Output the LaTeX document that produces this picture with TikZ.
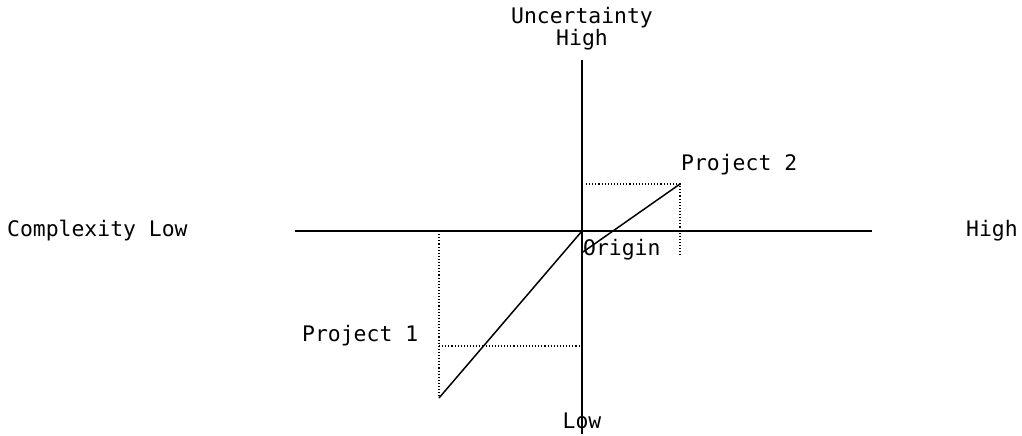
\documentclass[tikz,border=0pt]{standalone}
\usepackage{fontspec}
\setmonofont{DejaVu Sans Mono}
\usetikzlibrary{calc, positioning}

\begin{document}
\begin{tikzpicture}[x=1pt,y=-1pt,
  every node/.style={font=\fontsize{21.4}{25}\selectfont\ttfamily,inner sep=0pt},
  axis/.style={line width=1.6pt,black},
  proj/.style={line width=1.5pt,black},
  guide/.style={line width=1.1pt,dotted,black}]
\useasboundingbox (0,0) rectangle (1022,436);
\coordinate (O) at (582,231);
\coordinate (XL) at (295,231);
\coordinate (XR) at (872,231);
\coordinate (YT) at (582,60);
\coordinate (YB) at (582,434);
\coordinate (PTwo) at (680,184);
\coordinate (PTwoEnd) at (583,252);
\coordinate (PTwoY) at (586,184);
\coordinate (PTwoX) at (680,256);
\coordinate (POne) at (439,398);
\coordinate (POneX) at (439,231);
\coordinate (POneA) at (439,346);
\coordinate (POneY) at (580,346);

\draw[axis] (XL) -- (XR);
\draw[axis] (YT) -- (YB);
\draw[guide] (PTwoY) -- (PTwo) -- (PTwoX);
\draw[guide] (POneX) -- (POne);
\draw[guide] (POneA) -- (POneY);
\draw[proj] (O) -- (POne);
\draw[proj] (PTwo) -- (PTwoEnd);

\node (uncert) at (582,18) {Uncertainty};
\node (yhigh) at (582,40) {High};
\node (ylow) at (582,421) {Low};
\node[anchor=west] (xlow) at (7,231) {Complexity Low};
\node[anchor=west] (xhigh) at (966,231) {High};
\node[anchor=west] (ptwolab) at (681,165) {Project 2};
\node[anchor=west] (origin) at (583,250) {Origin};
\node[anchor=west] (ponelab) at (302,336) {Project 1};
\end{tikzpicture}
\end{document}
